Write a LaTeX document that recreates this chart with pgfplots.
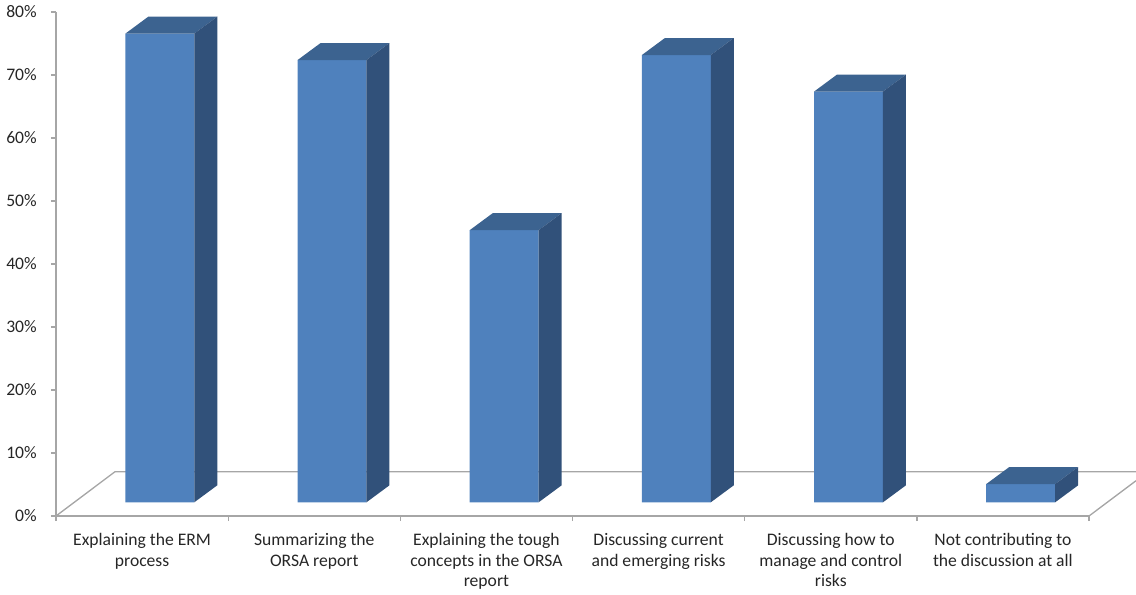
\documentclass[border=0pt]{standalone}
\usepackage{pgfplots}
\pgfplotsset{compat=1.18}
\usepackage{pgfplotstable}
\usepackage{fontspec}
\setmainfont{Carlito}
\definecolor{barfront}{HTML}{4F81BD}
\definecolor{bartop}{HTML}{3C6390}
\definecolor{barside}{HTML}{31517A}
\definecolor{axisgray}{HTML}{A6A6A6}

% x: category index, v: bar value in percent
\pgfplotstableread{
x v
0 74.4
1 70.2
2 43.2
3 71.0
4 65.2
5 2.9
}\bardata

\pgfdeclareplotmark{blank}{}

\begin{document}
\fontsize{13.2}{15.4}\selectfont
\begin{tikzpicture}[x=1pt,y=1pt]
\useasboundingbox (0,0) rectangle (852,445.5);
\begin{axis}[
  at={(42pt,58.5pt)}, anchor=south west,
  x=129.1275pt, y=4.725pt,
  xmin=0, xmax=6, ymin=-2.17, ymax=77.83,
  clip=false,
  axis x line=bottom, axis y line=left,
  axis line style={draw=axisgray, line width=1pt, -},
  tick style={draw=axisgray, line width=1pt},
  tick align=outside,
  major tick length=3.75pt,
  xtick={0,1,2,3,4,5,6}, xticklabels={},
  extra x ticks={0.5,1.5,2.5,3.5,4.5,5.5},
  extra x tick labels={{Explaining the ERM\\process},{Summarizing the\\ORSA report},{Explaining the tough\\concepts in the ORSA\\report},{Discussing current\\and emerging risks},{Discussing how to\\manage and control\\risks},{Not contributing to\\the discussion at all}},
  extra x tick style={major tick length=0pt, xticklabel style={align=center, anchor=north, inner sep=0pt, yshift=-13pt}},
  ytick={-2.17,7.83,17.83,27.83,37.83,47.83,57.83,67.83,77.83},
  yticklabels={0\%,10\%,20\%,30\%,40\%,50\%,60\%,70\%,80\%},
  yticklabel style={anchor=east, inner sep=0pt, xshift=-10.5pt},
  tick label style={font=\fontsize{13.2}{15.4}\selectfont, text=black!85},
]
% floor outline
\addplot[axisgray, line width=1pt] coordinates {(0,-2.17) (0.3427,4.86) (6.273,4.86)};
\addplot[axisgray, line width=1pt] coordinates {(6,-2.17) (6.273,3.43)};
% front faces
\addplot[ybar, bar width=0.4, bar shift=0pt, fill=barfront, draw=none]
  table[x expr=\thisrow{x}+0.603, y=v]{\bardata};
% top and side faces
\addplot[scatter, only marks, mark=blank,
  visualization depends on={\thisrow{v} \as \barval},
  scatter/@pre marker code/.code={%
    \pgfmathsetmacro\h{\barval*4.725}%
    \pgfpathmoveto{\pgfpoint{-25.83pt}{0pt}}%
    \pgfpathlineto{\pgfpoint{25.83pt}{0pt}}%
    \pgfpathlineto{\pgfpoint{43.08pt}{12.75pt}}%
    \pgfpathlineto{\pgfpoint{-8.58pt}{12.75pt}}%
    \pgfpathclose
    \pgfsetfillcolor{bartop}\pgfusepath{fill}%
    \pgfpathmoveto{\pgfpoint{25.83pt}{0pt}}%
    \pgfpathlineto{\pgfpoint{43.08pt}{12.75pt}}%
    \pgfpathlineto{\pgfpoint{43.08pt}{12.75pt-\h pt}}%
    \pgfpathlineto{\pgfpoint{25.83pt}{-\h pt}}%
    \pgfpathclose
    \pgfsetfillcolor{barside}\pgfusepath{fill}%
  },
  scatter/@post marker code/.code={},
] table[x expr=\thisrow{x}+0.603, y=v]{\bardata};
\end{axis}
\end{tikzpicture}
\end{document}
